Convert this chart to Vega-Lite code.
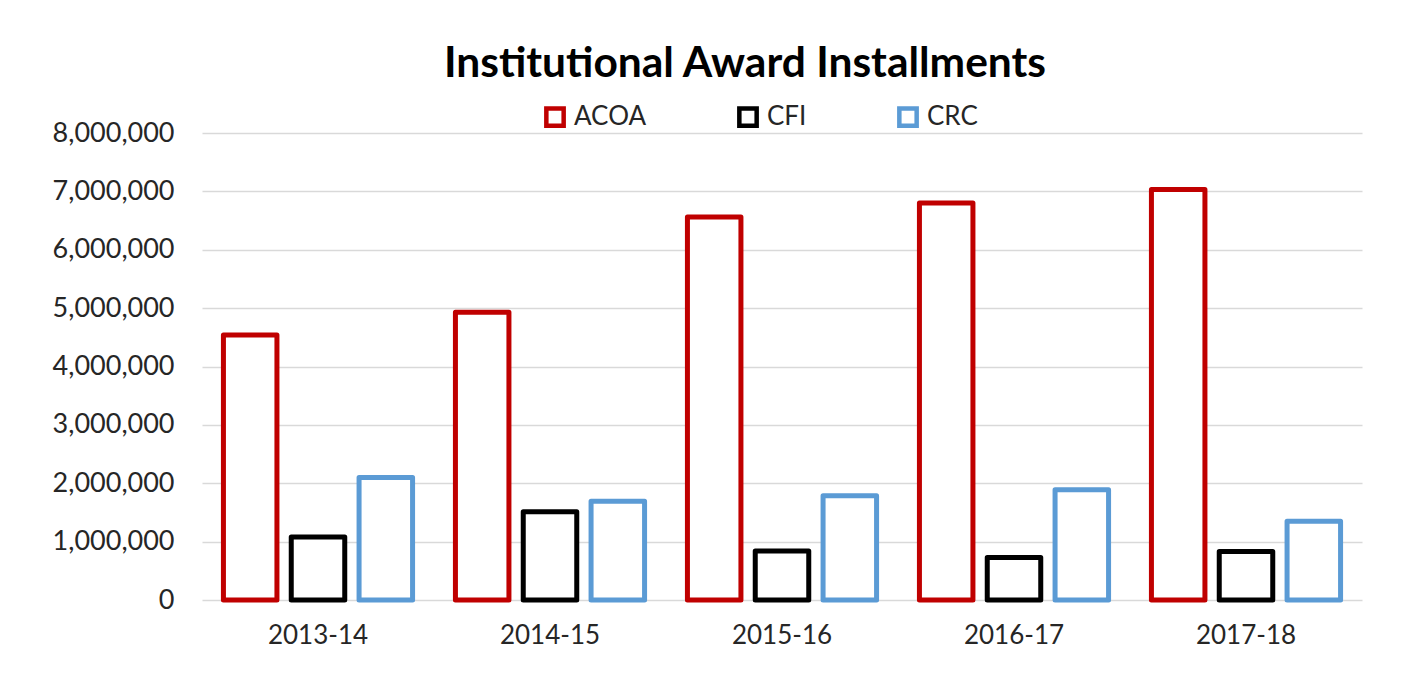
{
  "$schema": "https://vega.github.io/schema/vega-lite/v6.json",
  "width": 1160,
  "height": 467,
  "autosize": {"type": "none"},
  "padding": {"left": 202, "top": 133, "right": 64, "bottom": 75},
  "background": "white",
  "title": {
    "text": "Institutional Award Installments",
    "font": "Lato",
    "fontSize": 42.5,
    "fontWeight": "bold",
    "color": "black",
    "anchor": "middle",
    "frame": "group",
    "dx": -37,
    "offset": 19
  },
  "data": {
    "values": [
      {"year": "2013-14", "agency": "ACOA", "value": 4540000},
      {"year": "2013-14", "agency": "CFI", "value": 1080000},
      {"year": "2013-14", "agency": "CRC", "value": 2100000},
      {"year": "2014-15", "agency": "ACOA", "value": 4930000},
      {"year": "2014-15", "agency": "CFI", "value": 1510000},
      {"year": "2014-15", "agency": "CRC", "value": 1690000},
      {"year": "2015-16", "agency": "ACOA", "value": 6560000},
      {"year": "2015-16", "agency": "CFI", "value": 840000},
      {"year": "2015-16", "agency": "CRC", "value": 1785000},
      {"year": "2016-17", "agency": "ACOA", "value": 6800000},
      {"year": "2016-17", "agency": "CFI", "value": 730000},
      {"year": "2016-17", "agency": "CRC", "value": 1890000},
      {"year": "2017-18", "agency": "ACOA", "value": 7030000},
      {"year": "2017-18", "agency": "CFI", "value": 830000},
      {"year": "2017-18", "agency": "CRC", "value": 1350000}
    ]
  },
  "mark": {"type": "bar", "fill": "white", "strokeWidth": 5, "strokeJoin": "round"},
  "encoding": {
    "x": {
      "field": "year",
      "type": "nominal",
      "sort": null,
      "scale": {"paddingInner": 0, "paddingOuter": 0},
      "axis": {
        "title": null,
        "labelAngle": 0,
        "ticks": false,
        "domain": false,
        "grid": false,
        "labelFont": "Lato",
        "labelFontSize": 26,
        "labelColor": "#262626",
        "labelPadding": 22
      }
    },
    "xOffset": {
      "field": "agency",
      "type": "nominal",
      "sort": ["ACOA", "CFI", "CRC"],
      "scale": {"paddingInner": 0.211, "paddingOuter": 0.316}
    },
    "y": {
      "field": "value",
      "type": "quantitative",
      "scale": {"domain": [0, 8000000], "nice": false},
      "axis": {
        "title": null,
        "values": [0, 1000000, 2000000, 3000000, 4000000, 5000000, 6000000, 7000000, 8000000],
        "format": ",d",
        "domain": false,
        "ticks": false,
        "grid": true,
        "gridColor": "#D9D9D9",
        "gridWidth": 1.3,
        "labelFont": "Lato",
        "labelFontSize": 27,
        "labelColor": "#262626",
        "labelPadding": 28
      }
    },
    "stroke": {
      "field": "agency",
      "type": "nominal",
      "scale": {"domain": ["ACOA", "CFI", "CRC"], "range": ["#C00000", "#000000", "#5B9BD5"]},
      "legend": {
        "orient": "none",
        "legendX": 340,
        "legendY": -29,
        "direction": "horizontal",
        "title": null,
        "symbolType": "square",
        "symbolSize": 300,
        "symbolStrokeWidth": 4.5,
        "symbolFillColor": "white",
        "labelFont": "Lato",
        "labelFontSize": 26,
        "labelColor": "#262626",
        "labelOffset": 6,
        "columnPadding": 83
      }
    }
  },
  "config": {"view": {"stroke": null}}
}
